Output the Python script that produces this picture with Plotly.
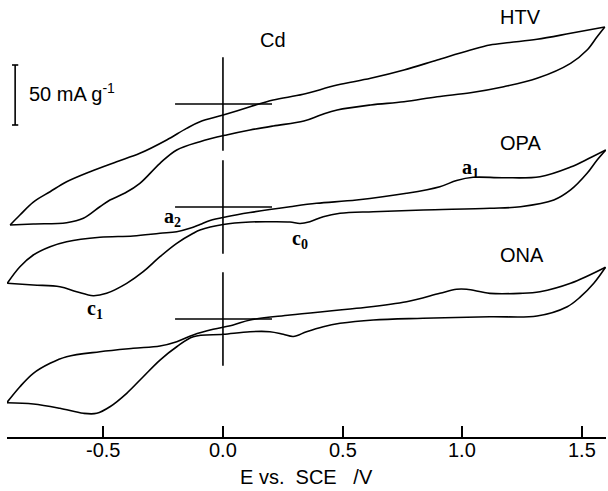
import plotly.graph_objects as go

# ---------------- data (E in V vs SCE, I in mA g^-1 relative to each curve's zero-current line)
htv_E_an = [-0.889, -0.848, -0.792, -0.722, -0.653, -0.555, -0.444, -0.347, -0.235, -0.152, -0.096, 0.001,
            0.113, 0.21, 0.335, 0.477, 0.617, 0.756, 0.895, 1.034, 1.115, 1.198, 1.312, 1.452, 1.595]
htv_I_an = [-100.8, -92.5, -81.7, -73.1, -64.8, -56.4, -48.1, -41.1, -30.0, -20.3, -14.8, -9.2,
            -2.3, 3.3, 8.1, 15.8, 21.4, 28.3, 36.7, 45.0, 49.2, 51.25, 53.9, 58.9, 64.2]
htv_E_cat = [1.595, 1.563, 1.521, 1.452, 1.312, 1.173, 1.034, 0.895, 0.756, 0.617, 0.477, 0.408, 0.338,
             0.21, 0.113, 0.015, -0.096, -0.193, -0.263, -0.347, -0.409, -0.472, -0.514, -0.583,
             -0.653, -0.792, -0.889]
htv_I_cat = [64.2, 56.1, 45.0, 33.9, 21.4, 14.4, 9.4, 6.1, 1.9, -0.8, -5.0, -9.2, -14.2,
             -18.3, -21.7, -25.8, -31.4, -38.3, -49.4, -66.1, -74.2, -80.0, -85.6, -95.25,
             -98.9, -100.0, -100.8]

opa_E_an = [-0.901, -0.848, -0.792, -0.722, -0.653, -0.514, -0.375, -0.263, -0.193, -0.138, -0.096, -0.054,
            0.015, 0.113, 0.280, 0.391, 0.558, 0.767, 0.906, 0.976, 1.045, 1.170, 1.324, 1.452, 1.532, 1.599]
opa_I_an = [-63.6, -49.75, -40.0, -33.1, -28.9, -25.25, -24.2, -21.9, -20.6, -17.75, -14.6, -11.25,
            -8.1, -4.6, 0.25, 3.1, 5.8, 11.4, 16.9, 22.1, 24.75, 24.4, 25.25, 33.3, 40.8, 47.5]
opa_E_cat = [1.599, 1.563, 1.521, 1.452, 1.382, 1.243, 1.115, 0.836, 0.628, 0.489, 0.419, 0.363, 0.322,
             0.280, 0.196, 0.113, 0.001, -0.096, -0.124, -0.193, -0.263, -0.333, -0.402, -0.486,
             -0.542, -0.611, -0.681, -0.792, -0.901]
opa_I_cat = [47.5, 39.2, 28.1, 14.2, 5.8, 0.25, -1.1, -2.5, -3.9, -5.25, -8.1, -12.25, -13.75,
             -12.5, -12.25, -12.5, -14.6, -19.2, -21.9, -30.25, -41.4, -53.9, -63.6, -71.9,
             -73.9, -70.6, -66.4, -65.0, -63.6]

ona_E_an = [-0.903, -0.848, -0.792, -0.722, -0.653, -0.514, -0.375, -0.263, -0.193, -0.124, -0.041, 0.043,
            0.113, 0.280, 0.558, 0.767, 0.906, 0.976, 1.018, 1.115, 1.240, 1.324, 1.452, 1.598]
ona_I_an = [-69.75, -56.4, -45.25, -36.9, -31.4, -27.25, -24.4, -22.5, -18.9, -13.3, -8.6, -5.0,
            -0.8, 3.3, 8.9, 14.4, 21.4, 24.75, 24.75, 21.4, 21.4, 22.75, 29.75, 43.1]
ona_E_cat = [1.598, 1.549, 1.494, 1.438, 1.312, 1.115, 0.836, 0.628, 0.489, 0.419, 0.349, 0.294, 0.252,
             0.196, 0.113, 0.001, -0.124, -0.193, -0.263, -0.333, -0.402, -0.472, -0.527, -0.583,
             -0.681, -0.792, -0.903]
ona_I_cat = [43.1, 29.75, 18.6, 10.25, 2.5, 1.9, 0.6, -0.8, -3.6, -6.4, -10.6, -14.6, -12.75,
             -10.6, -10.6, -12.75, -14.75, -23.1, -34.2, -48.1, -61.9, -73.1, -78.6, -78.6,
             -74.4, -70.8, -69.75]

# vertical offsets (mA g^-1) of each curve's zero-current line
names = ["HTV", "OPA", "ONA"]
offsets = {"HTV": 277.5, "OPA": 191.67, "ONA": 98.33}

tick_vals = [-0.5, 0.0, 0.5, 1.0, 1.5]
tick_text = ["-0.5", "0.0", "0.5", "1.0", "1.5"]

zero_marker_E = [-0.2, 0.205]   # horizontal zero-current markers (V)
zero_marker_I = 39.0            # half-length of vertical E=0 markers (mA g^-1)
scale_bar = 50.0                # mA g^-1

curves = {
    "HTV": (htv_E_an, htv_I_an, htv_E_cat, htv_I_cat),
    "OPA": (opa_E_an, opa_I_an, opa_E_cat, opa_I_cat),
    "ONA": (ona_E_an, ona_I_an, ona_E_cat, ona_I_cat),
}

fig = go.Figure()
line = dict(color="black", width=1.6)
sline = dict(color="black", width=1.6, shape="spline", smoothing=1.0)

for n in names:
    Ea, Ia, Ec, Ic = curves[n]
    off = offsets[n]
    fig.add_trace(go.Scatter(x=Ea, y=[v + off for v in Ia], mode="lines", line=sline,
                             hoverinfo="skip", showlegend=False))
    fig.add_trace(go.Scatter(x=Ec, y=[v + off for v in Ic], mode="lines", line=sline,
                             hoverinfo="skip", showlegend=False))
    fig.add_trace(go.Scatter(x=zero_marker_E, y=[off, off], mode="lines", line=line,
                             hoverinfo="skip", showlegend=False))
    fig.add_trace(go.Scatter(x=[0.0, 0.0], y=[off - zero_marker_I, off + zero_marker_I], mode="lines",
                             line=line, hoverinfo="skip", showlegend=False))

# scale bar
sb_x = -0.868
sb_y0 = 260.0
fig.add_trace(go.Scatter(x=[sb_x, sb_x], y=[sb_y0, sb_y0 + scale_bar], mode="lines", line=line,
                         hoverinfo="skip", showlegend=False))
for yy in [sb_y0, sb_y0 + scale_bar]:
    fig.add_trace(go.Scatter(x=[sb_x - 0.013, sb_x + 0.013], y=[yy, yy], mode="lines", line=line,
                             hoverinfo="skip", showlegend=False))

sans = "Liberation Sans, Arial, sans-serif"
serif = "Liberation Serif, Times New Roman, serif"

ann = []
def txt(x, y, s, size=20, fam=sans, xanchor="center", bold=False):
    ann.append(dict(x=x, y=y, xref="x", yref="y", text=(f"<b>{s}</b>" if bold else s), showarrow=False,
                    font=dict(family=fam, size=size, color="black"), xanchor=xanchor, yanchor="middle"))

txt(0.208, 330.8, "Cd")
txt(1.243, 350.3, "HTV")
txt(1.243, 244.7, "OPA")
txt(1.249, 151.7, "ONA")
txt(-0.82, 286.7, "50 mA g<sup>-1</sup>", xanchor="left")
txt(-0.212, 183.0, "a<sub>2</sub>", size=20, fam=serif, bold=True)
txt(0.322, 164.5, "c<sub>0</sub>", size=20, fam=serif, bold=True)
txt(1.035, 223.5, "a<sub>1</sub>", size=20, fam=serif, bold=True)
txt(-0.536, 106.0, "c<sub>1</sub>", size=20, fam=serif, bold=True)

# tick labels
for v, t in zip(tick_vals, tick_text):
    ann.append(dict(x=v, y=0, xref="x", yref="paper", text=t, showarrow=False, yshift=-13,
                    font=dict(family=sans, size=20, color="black"), xanchor="center", yanchor="middle"))

ann.append(dict(x=0.5, y=-40 / 437, xref="paper", yref="paper",
                text="E vs.&nbsp; SCE&nbsp;&nbsp; /V", showarrow=False,
                font=dict(family=sans, size=20, color="black"), xanchor="center", yanchor="middle"))

fig.update_layout(
    width=608, height=491,
    margin=dict(l=7, r=2, t=0, b=54),
    paper_bgcolor="white", plot_bgcolor="white",
    annotations=ann,
    xaxis=dict(range=[-0.902, 1.6], tickvals=tick_vals, ticks="inside", ticklen=11,
               tickwidth=1.5, tickcolor="black", showline=True, linecolor="black", linewidth=1.6,
               showticklabels=False, showgrid=False, zeroline=False),
    yaxis=dict(range=[0, 364.17], visible=False, showgrid=False, zeroline=False),
)

fig.write_html("out.html")
